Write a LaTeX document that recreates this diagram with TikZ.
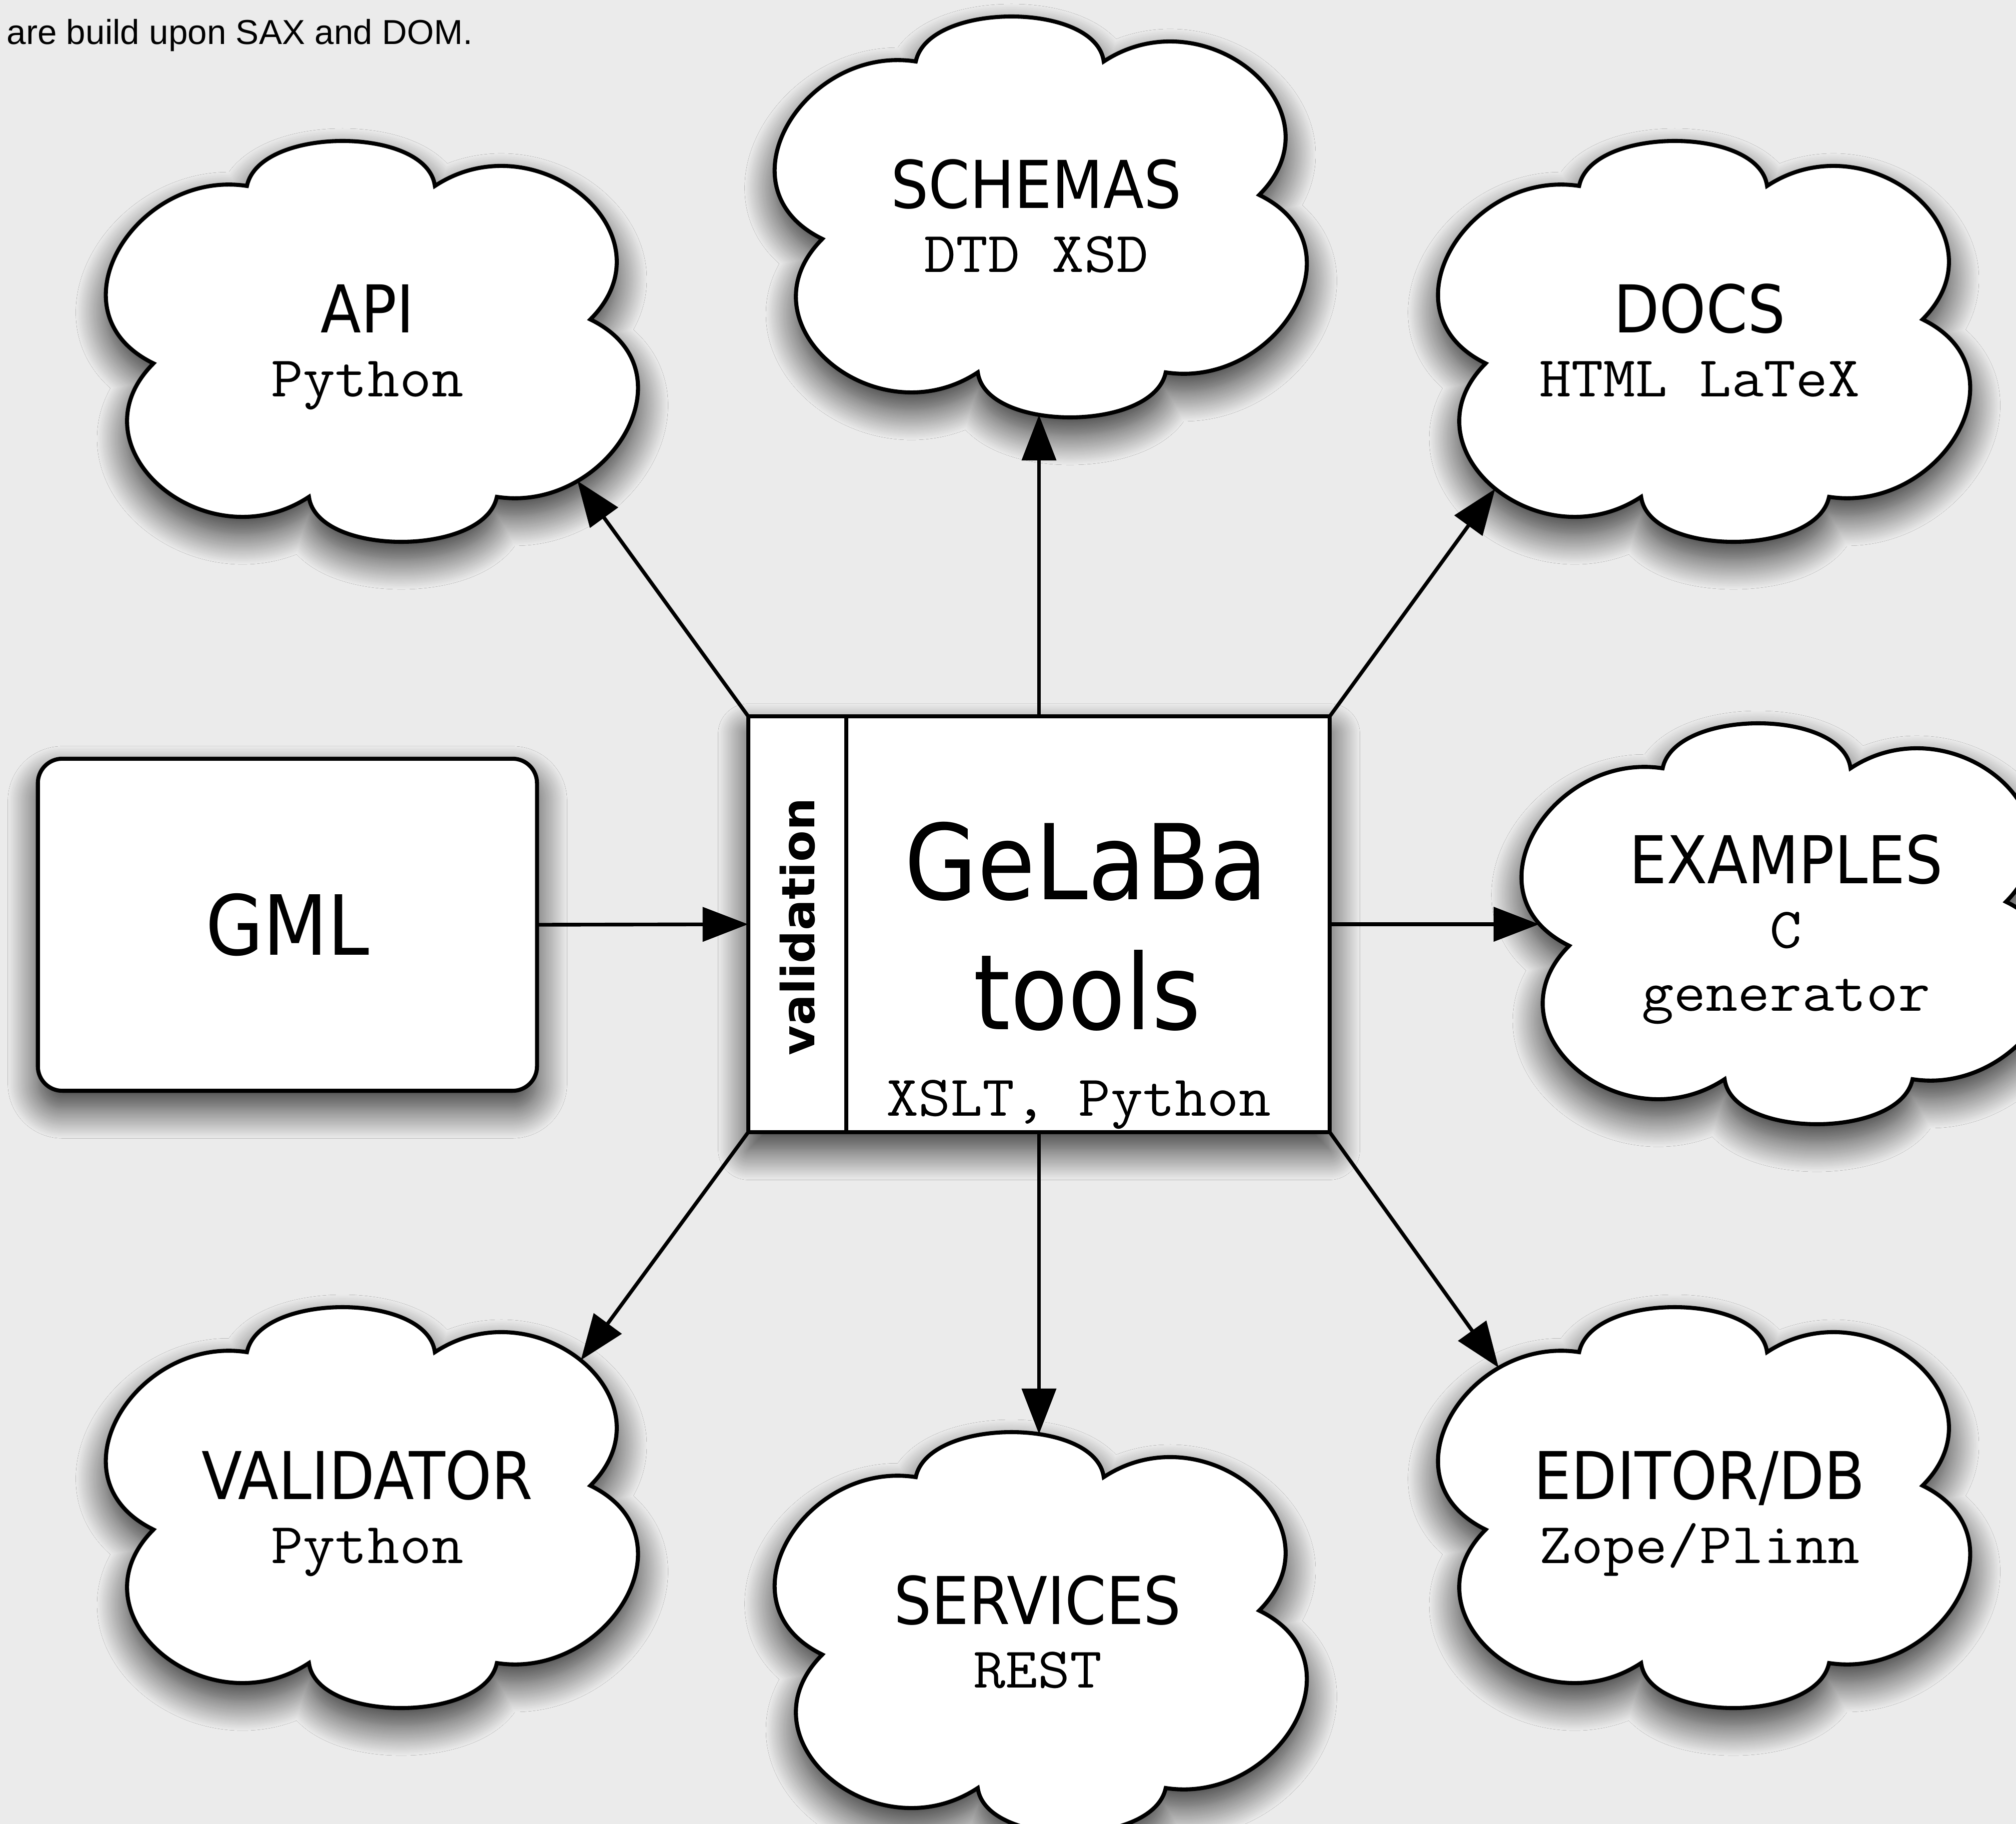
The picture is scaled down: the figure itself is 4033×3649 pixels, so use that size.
\documentclass[tikz,border=0pt]{standalone}
\usepackage{fontspec}
\newfontfamily\condfont{DejaVu Sans Condensed}
\newfontfamily\plainfont{DejaVu Sans}
\newfontfamily\codefont[FakeStretch=1.08]{Latin Modern Mono}
\newfontfamily\notefont{Liberation Sans}
\usepackage{tikz}
\usetikzlibrary{arrows.meta,shadows.blur}
\definecolor{paper}{HTML}{EBEBEB}
\definecolor{ink}{HTML}{000000}
\tikzset{
  px/.style={x=0.01cm, y=-0.01cm},
  softshadow/.style={blur shadow={shadow xshift=0cm, shadow yshift=-0.35cm, shadow blur radius=0.6cm, shadow blur steps=30, shadow opacity=80}},
  box/.style={draw=ink, fill=white, line width=2.3pt, softshadow, inner sep=0pt, outer sep=0pt},
  puff/.style={draw=ink, fill=white, line width=2.3pt, softshadow},
  flow/.style={draw=ink, line width=2.1pt, -{Triangle[length=0.91cm, width=0.68cm]}},
  ttl/.style={inner sep=0pt, anchor=base, font=\condfont\fontsize{37.5}{40}\selectfont, text=ink},
  code/.style={inner sep=0pt, anchor=base, font=\codefont\fontsize{32.8}{35}\selectfont, text=ink},
  big/.style={inner sep=0pt, anchor=base, font=\condfont\fontsize{59.5}{62}\selectfont, text=ink},
  side/.style={inner sep=0pt, font=\plainfont\bfseries\fontsize{26}{28}\selectfont, text=ink},
  note/.style={inner sep=0pt, anchor=base west, font=\notefont\fontsize{19.7}{22}\selectfont, text=ink},
}
% one cloud outline around a centre, the centre kept as a coordinate
\newcommand{\puffcloud}[2]{%
  \draw[puff, shift={#2}] (-250,-311) .. controls (-225,-431) and (110,-431) .. (126,-311)
    .. controls (330,-445) and (607,-214) .. (437,-44)
    .. controls (650,60) and (470,345) .. (250,311)
    .. controls (225,431) and (-110,431) .. (-126,311)
    .. controls (-330,445) and (-607,214) .. (-437,44)
    .. controls (-650,-60) and (-470,-345) .. (-250,-311) -- cycle;
  \coordinate (#1) at #2;}

\begin{document}
\begin{tikzpicture}[px]
  \useasboundingbox (0,0) rectangle (4033,3649);
  \fill[paper] (0,0) rectangle (4033,3649);

  \node[note] (note) at (13,89) {are build upon SAX and DOM.};

  \puffcloud{api}{(744,683)}
  \node[ttl] (api-t) at (735,666) {API}; \node[code] (api-s) at (735,794) {Python};
  \puffcloud{schemas}{(2082,434)}
  \node[ttl] (schemas-t) at (2073,417) {SCHEMAS}; \node[code] (schemas-s) at (2073,545) {DTD XSD};
  \puffcloud{docs}{(3409,683)}
  \node[ttl] (docs-t) at (3400,666) {DOCS}; \node[code] (docs-s) at (3400,794) {HTML LaTeX};
  \puffcloud{examples}{(3576,1848)}
  \node[ttl] (examples-t) at (3573,1767) {EXAMPLES}; \node[code] (examples-s) at (3573,1896) {C}; \node[code] (examples-g) at (3573,2022) {generator};
  \puffcloud{validator}{(744,3016)}
  \node[ttl] (validator-t) at (735,2999) {VALIDATOR}; \node[code] (validator-s) at (735,3127) {Python};
  \puffcloud{services}{(2082,3266)}
  \node[ttl] (services-t) at (2076,3249) {SERVICES}; \node[code] (services-s) at (2076,3376) {REST};
  \puffcloud{editor}{(3409,3016)}
  \node[ttl] (editor-t) at (3400,2999) {EDITOR/DB}; \node[code] (editor-s) at (3400,3127) {Zope/Plinn};

  \node[box, rounded corners=0.49cm, minimum width=9.98cm, minimum height=6.64cm, font=\condfont\fontsize{47.2}{50}\selectfont] (gml) at (575,1850) {GML};

  \node[box, minimum width=11.63cm, minimum height=8.32cm] (tools) at (2078.5,1849) {};
  \draw[line width=2.3pt] ([xshift=1.96cm]tools.north west) -- ([xshift=1.96cm]tools.south west);
  \node[side, rotate=90] (valid) at (1595,1854) {validation};
  \node[big] (gelaba) at (2173,1799) {GeLaBa};
  \node[big] (toolword) at (2175,2059) {tools};
  \node[code] (xslt) at (2158,2232) {XSLT, Python};

  \coordinate (api-in) at (1155,962);
  \coordinate (schemas-in) at (2080,830);
  \coordinate (docs-in) at (2991,978);
  \coordinate (examples-in) at (3079,1849);
  \coordinate (validator-in) at (1162,2721);
  \coordinate (services-in) at (2080,2869);
  \coordinate (editor-in) at (2998,2736);

  \draw[flow] (gml.east) -- (tools.west);
  \draw[flow] (tools.north west) -- (api-in);
  \draw[flow] (tools.north) -- (tools.north |- schemas-in);
  \draw[flow] (tools.north east) -- (docs-in);
  \draw[flow] (tools.east) -- (tools.east -| examples-in);
  \draw[flow] (tools.south west) -- (validator-in);
  \draw[flow] (tools.south) -- (tools.south |- services-in);
  \draw[flow] (tools.south east) -- (editor-in);
\end{tikzpicture}
\end{document}
